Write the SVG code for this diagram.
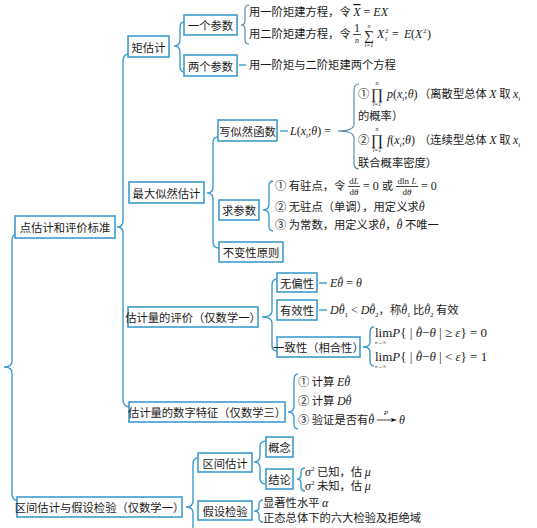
<svg xmlns="http://www.w3.org/2000/svg" width="537" height="528" viewBox="0 0 537 528">
<style>
.box{fill:#fff;stroke:#3d9ccb;stroke-width:1.6}
.br{fill:none;stroke:#3d9ccb;stroke-width:1.4}
.tb{fill:none;stroke:#4f86a8;stroke-width:1.1}
.ln{stroke:#3d9ccb;stroke-width:1.4}
text{font-family:"Noto Sans CJK SC","Noto Sans",sans-serif;font-size:11.3px;fill:#1a1a1a}
.lb{text-anchor:middle;dominant-baseline:central}
.m{font-family:"Liberation Serif","DejaVu Serif",serif;font-style:italic;font-size:12px}
.r{font-family:"Liberation Serif","DejaVu Serif",serif;font-style:normal;font-size:12px}
.h{font-family:"Liberation Serif","DejaVu Serif",serif;font-style:normal;font-size:10px}
.sb{font-family:"Liberation Serif","DejaVu Serif",serif;font-style:normal;font-size:7px}
.c{text-anchor:middle}
.big{font-size:13px}
.big .m{font-size:13px}
</style>
<rect width="537" height="528" fill="#fff"/>
<g id="connectors">
<path class="br" d="M16,234 Q12,235 12,241 V361 Q12,367 4,367 Q12,367 12,373 V494 Q12,500 18,501"/>
<path class="br" d="M128,54 Q123,55 123,61 V221 Q123,227 117,227 Q123,227 123,233 V400 Q123,406 129,407"/>
<path class="br" d="M184,22 Q180,22 180,28 V40 Q180,46 174,46 Q180,46 180,52 V66 Q180,72 184,72"/>
<path class="tb" d="M249,5 Q245,5 245,9 V21 Q245,25 241,25 Q245,25 245,29 V40 Q245,44 249,44"/>
<line class="ln" x1="239" y1="65" x2="246" y2="65"/>
<path class="br" d="M218,137 Q213,137 213,143 V187 Q213,193 207,193 Q213,193 213,199 V242 Q213,248 219,248"/>
<line class="ln" x1="280" y1="131" x2="288" y2="131"/>
<path class="tb" d="M359,84 Q354,84 354,90 V124 Q354,131 338,131 Q354,131 354,138 V163 Q354,169 359,169"/>
<path class="br" d="M273,181 Q269,181 269,186 V204 Q269,210 263,210 Q269,210 269,216 V226 Q269,231 273,231"/>
<path class="br" d="M277,279 Q272,279 272,285 V311 Q272,317 262,317 Q272,317 272,323 V345 Q272,351 277,351"/>
<line class="ln" x1="319" y1="283" x2="327" y2="283"/>
<line class="ln" x1="319" y1="310" x2="327" y2="310"/>
<path class="br" d="M374,327 Q370,327 370,332 V342 Q370,347 363,347 Q370,347 370,352 V361 Q370,366 374,366"/>
<path class="br" d="M298,374 Q294,374 294,380 V406 Q294,412 288,412 Q294,412 294,418 V424 Q294,429 298,429"/>
<path class="br" d="M198,458 Q193,458 193,464 V501 Q193,507 186,507 Q193,507 193,513 V528"/>
<path class="br" d="M266,441 Q260,441 260,447 V456 Q260,462 254,462 Q260,462 260,468 V478 Q260,484 266,484"/>
<path class="br" d="M305,468 Q301,468 301,472 V475 Q301,479 297,479 Q301,479 301,483 V487 Q301,491 305,491"/>
<path class="br" d="M263,500 Q259,500 259,504 V507 Q259,511 254,511 Q259,511 259,515 V518 Q259,522 263,522"/>
</g>
<g id="n1"><rect class="box" x="15" y="216" width="100" height="22"/><text class="lb" x="65" y="227">点估计和评价标准</text></g>
<g id="n2"><rect class="box" x="17" y="497" width="165" height="20"/><text class="lb" x="99.5" y="507">区间估计与假设检验（仅数学一）</text></g>
<g id="n3"><rect class="box" x="128" y="36" width="41" height="21"/><text class="lb" x="148.5" y="46.5">矩估计</text></g>
<g id="n4"><rect class="box" x="129" y="182" width="75" height="21"/><text class="lb" x="166.5" y="192.5">最大似然估计</text></g>
<g id="n5"><rect class="box" x="128" y="307" width="130" height="20"/><text class="lb" x="193" y="317">估计量的评价（仅数学一）</text></g>
<g id="n6"><rect class="box" x="129" y="402" width="156" height="20"/><text class="lb" x="207" y="412">估计量的数字特征（仅数学三）</text></g>
<g id="n7"><rect class="box" x="184" y="15" width="53" height="20"/><text class="lb" x="210.5" y="25">一个参数</text></g>
<g id="n8"><rect class="box" x="184" y="55" width="53" height="21"/><text class="lb" x="210.5" y="65.5">两个参数</text></g>
<g id="n9"><rect class="box" x="218" y="120" width="59" height="21"/><text class="lb" x="247.5" y="130.5">写似然函数</text></g>
<g id="n10"><rect class="box" x="219" y="200" width="40" height="20"/><text class="lb" x="239" y="210">求参数</text></g>
<g id="n11"><rect class="box" x="219" y="242" width="64" height="20"/><text class="lb" x="251" y="252">不变性原则</text></g>
<g id="n12"><rect class="box" x="277" y="273" width="40" height="19"/><text class="lb" x="297" y="282.5">无偏性</text></g>
<g id="n13"><rect class="box" x="277" y="300" width="40" height="20"/><text class="lb" x="297" y="310">有效性</text></g>
<g id="n14"><rect class="box" x="277" y="337" width="83" height="20"/><text class="lb" x="318.5" y="347">一致性（相合性）</text></g>
<g id="n15"><rect class="box" x="198" y="453" width="54" height="19"/><text class="lb" x="225" y="462.5">区间估计</text></g>
<g id="n16"><rect class="box" x="198" y="501" width="54" height="19"/><text class="lb" x="225" y="510.5">假设检验</text></g>
<g id="n17"><rect class="box" x="266" y="437" width="27" height="20"/><text class="lb" x="279.5" y="447">概念</text></g>
<g id="n18"><rect class="box" x="266" y="469" width="27" height="20"/><text class="lb" x="279.5" y="479">结论</text></g>

<g id="moment-texts">
<text x="249" y="16">用一阶矩建方程，令 <tspan class="m" style="text-decoration:overline">X</tspan><tspan class="r"> = </tspan><tspan class="m">EX</tspan></text>
<text x="249" y="38">用二阶矩建方程，令</text>
<text class="r c" x="357" y="32" font-size="9">1</text>
<line x1="353" y1="34.5" x2="361" y2="34.5" stroke="#1a1a1a" stroke-width="0.8"/>
<text class="m c" x="357" y="43" style="font-size:8px">n</text>
<text class="r c" x="369" y="40" style="font-size:14px">∑</text>
<text class="m c" x="369" y="28" style="font-size:6px">n</text>
<text class="m c" x="369" y="47" style="font-size:6px">i=1</text>
<text class="m" x="377" y="38">X</text>
<text class="m" x="385" y="41" style="font-size:7px">i</text>
<text class="r" x="385" y="33" style="font-size:7px">2</text>
<text class="r" x="392" y="38"> = </text>
<text class="m" x="404" y="38">E</text>
<text class="r" x="411" y="38">(</text>
<text class="m" x="415" y="38">X</text>
<text class="r" x="423" y="33" style="font-size:7px">2</text>
<text class="r" x="427" y="38">)</text>
<text x="249" y="69">用一阶矩与二阶矩建两个方程</text>
</g>

<g id="mle-texts">
<text class="m" x="290" y="135">L<tspan class="r">(</tspan>x<tspan dy="3" style="font-size:7px">i</tspan><tspan class="r" dy="-3">;</tspan>θ<tspan class="r">) =</tspan></text>
<text x="358" y="98">①</text>
<text class="r c" x="377" y="99" style="font-size:15px">∏</text>
<text class="m c" x="377" y="85" style="font-size:6px">n</text>
<text class="m c" x="377" y="106" style="font-size:6px">i=1</text>
<text class="m" x="387" y="98">p<tspan class="r">(</tspan>x<tspan dy="3" style="font-size:7px">i</tspan><tspan class="r" dy="-3">;</tspan>θ<tspan class="r">)</tspan></text>
<text x="419" y="98">（离散型总体 <tspan class="m">X</tspan> 取 <tspan class="m">x</tspan><tspan class="m" dy="3" style="font-size:7px">i</tspan></text>
<text x="358" y="120">的概率）</text>
<text x="358" y="144">②</text>
<text class="r c" x="377" y="145" style="font-size:15px">∏</text>
<text class="m c" x="377" y="131" style="font-size:6px">n</text>
<text class="m c" x="377" y="152" style="font-size:6px">i=1</text>
<text class="m" x="387" y="144">f<tspan class="r">(</tspan>x<tspan dy="3" style="font-size:7px">i</tspan><tspan class="r" dy="-3">;</tspan>θ<tspan class="r">)</tspan></text>
<text x="419" y="144">（连续型总体 <tspan class="m">X</tspan> 取 <tspan class="m">x</tspan><tspan class="m" dy="3" style="font-size:7px">i</tspan></text>
<text x="358" y="167">联合概率密度）</text>

<text x="275" y="190">① 有驻点，令</text>
<text class="r c" x="354" y="184" style="font-size:9px">d<tspan class="m" style="font-size:9px">L</tspan></text>
<line x1="348" y1="186.5" x2="360" y2="186.5" stroke="#1a1a1a" stroke-width="0.8"/>
<text class="r c" x="354" y="195" style="font-size:9px">d<tspan class="m" style="font-size:9px">θ</tspan></text>
<text x="363" y="190"><tspan class="r">= 0 </tspan>或</text>
<text class="r c" x="407" y="184" style="font-size:9px">dln <tspan class="m" style="font-size:9px">L</tspan></text>
<line x1="396" y1="186.5" x2="418" y2="186.5" stroke="#1a1a1a" stroke-width="0.8"/>
<text class="r c" x="407" y="195" style="font-size:9px">d<tspan class="m" style="font-size:9px">θ</tspan></text>
<text class="r" x="421" y="190">= 0</text>
<text x="275" y="211">② 无驻点（单调），用定义求<tspan class="m">θ</tspan><tspan class="h" dx="-3.8" dy="-3">ˆ</tspan></text>
<text x="275" y="229">③ 为常数，用定义求<tspan class="m">θ</tspan><tspan class="h" dx="-3.8" dy="-3">ˆ</tspan><tspan dx="0.5" dy="3">，</tspan><tspan class="m">θ</tspan><tspan class="h" dx="-3.8" dy="-3">ˆ</tspan><tspan dx="0.5" dy="3"> 不唯一</tspan></text>
</g>

<g id="eval-texts">
<text class="m" x="330" y="287">Eθ<tspan class="h" dx="-3.8" dy="-3">ˆ</tspan><tspan class="r" dx="0.5" dy="3"> = </tspan>θ</text>
<text x="330" y="314"><tspan class="m">Dθ</tspan><tspan class="h" dx="-3.8" dy="-3">ˆ</tspan><tspan class="sb" dx="0.3" dy="6">1</tspan><tspan class="r" dy="-3"> &lt; </tspan><tspan class="m">Dθ</tspan><tspan class="h" dx="-3.8" dy="-3">ˆ</tspan><tspan class="sb" dx="0.3" dy="6">2</tspan><tspan dy="-3">，称</tspan><tspan class="m">θ</tspan><tspan class="h" dx="-3.8" dy="-3">ˆ</tspan><tspan class="sb" dx="0.3" dy="6">1</tspan><tspan dy="-3"> 比</tspan><tspan class="m">θ</tspan><tspan class="h" dx="-3.8" dy="-3">ˆ</tspan><tspan class="sb" dx="0.3" dy="6">2</tspan><tspan dy="-3"> 有效</tspan></text>
<text class="r big" x="375" y="337">lim<tspan class="m">P</tspan>{ | <tspan class="m">θ</tspan><tspan class="h" dx="-4" dy="-3">ˆ</tspan><tspan dx="0.7" dy="3">−</tspan><tspan class="m">θ</tspan> | ≥ <tspan class="m">ε</tspan>} = 0</text>
<text class="m" x="375" y="344" style="font-size:5px">n→∞</text>
<text class="r big" x="375" y="361">lim<tspan class="m">P</tspan>{ | <tspan class="m">θ</tspan><tspan class="h" dx="-4" dy="-3">ˆ</tspan><tspan dx="0.7" dy="3">−</tspan><tspan class="m">θ</tspan> | &lt; <tspan class="m">ε</tspan>} = 1</text>
<text class="m" x="375" y="368" style="font-size:5px">n→∞</text>
<text x="298" y="386">① 计算 <tspan class="m">Eθ</tspan><tspan class="h" dx="-3.8" dy="-3">ˆ</tspan></text>
<text x="298" y="405">② 计算 <tspan class="m">Dθ</tspan><tspan class="h" dx="-3.8" dy="-3">ˆ</tspan></text>
<text x="298" y="424">③ 验证是否有<tspan class="m">θ</tspan><tspan class="h" dx="-3.8" dy="-3">ˆ</tspan></text>
<line x1="377" y1="420" x2="393" y2="420" stroke="#1a1a1a" stroke-width="0.8"/>
<path d="M397,420 L391,418 L392,420 L391,422 Z" fill="#1a1a1a"/>
<text class="m c" x="386" y="415" style="font-size:7px">P</text>
<text class="m" x="399" y="424">θ</text>
</g>

<g id="interval-texts">
<text x="305" y="476"><tspan class="m">σ</tspan><tspan class="sb" dy="-5">2</tspan><tspan dy="5"> 已知，估 </tspan><tspan class="m">μ</tspan></text>
<text x="305" y="490"><tspan class="m">σ</tspan><tspan class="sb" dy="-5">2</tspan><tspan dy="5"> 未知，估 </tspan><tspan class="m">μ</tspan></text>
<text x="263" y="507">显著性水平 <tspan class="m">α</tspan></text>
<text x="263" y="522">正态总体下的六大检验及拒绝域</text>
</g>
</svg>
